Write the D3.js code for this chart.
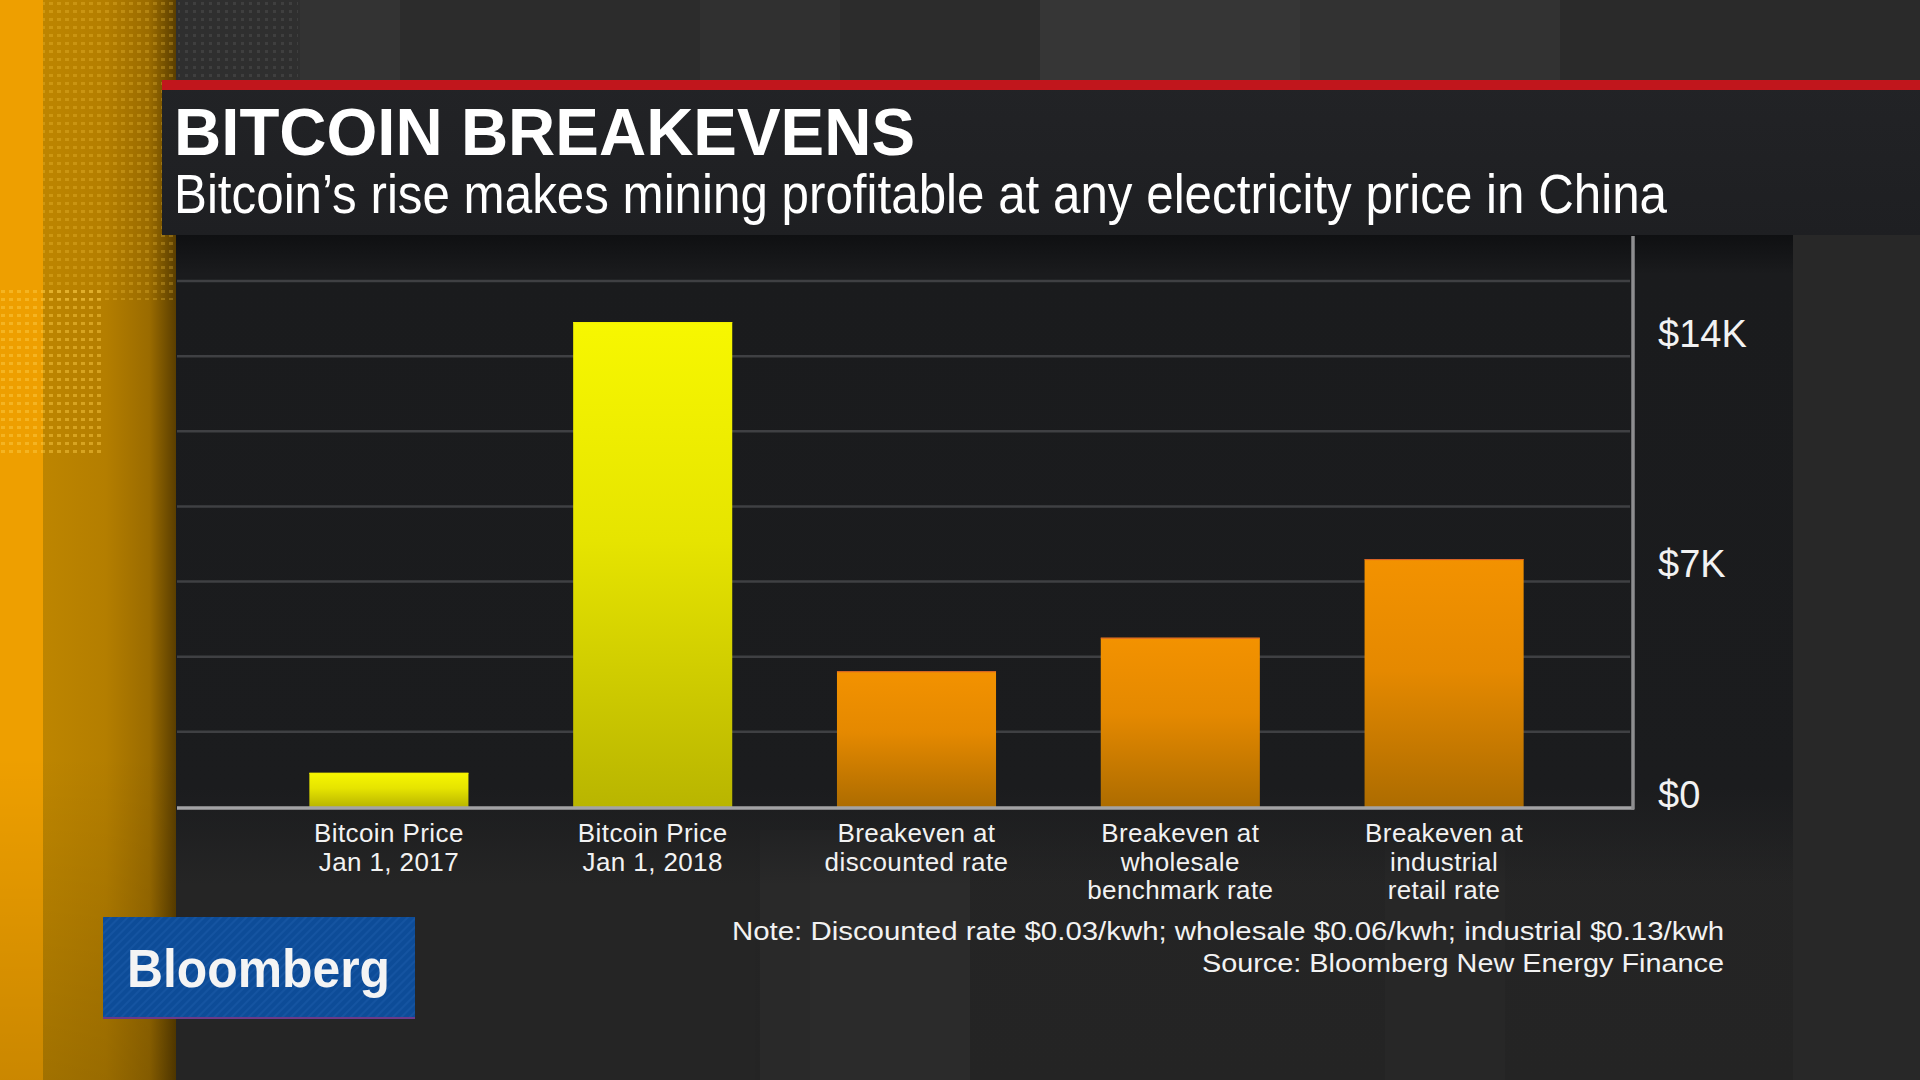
<!DOCTYPE html>
<html>
<head>
<meta charset="utf-8">
<script src="https://cdn.jsdelivr.net/npm/d3@7"></script>
<style>
  html, body { margin: 0; padding: 0; background: #252525; overflow: hidden; }
  svg { display: block; }
  text { font-family: "Liberation Sans", Arial, sans-serif; fill: #f2f2f2; }
</style>
</head>
<body>
<svg id="chart" width="1920" height="1080"></svg>
<script>
// ---------- data ----------
const categories = [
  "Bitcoin Price\nJan 1, 2017",
  "Bitcoin Price\nJan 1, 2018",
  "Breakeven at\ndiscounted rate",
  "Breakeven at\nwholesale\nbenchmark rate",
  "Breakeven at\nindustrial\nretail rate"
];
const values = [1040, 14750, 4130, 5150, 7540];
const seriesType = ["price", "price", "breakeven", "breakeven", "breakeven"];
const yTickValues = [0, 7000, 14000];
const yTickLabels = ["$0", "$7K", "$14K"];
const yMax = 16000;
const gridCount = 7;
const title = "BITCOIN BREAKEVENS";
const subtitle = "Bitcoin\u2019s rise makes mining profitable at any electricity price in China";
const note = "Note: Discounted rate $0.03/kwh; wholesale $0.06/kwh; industrial $0.13/kwh";
const source = "Source: Bloomberg New Energy Finance";

// ---------- setup ----------
const svg = d3.select("#chart");
const defs = svg.append("defs");

function linGrad(id, stops, x1=0, y1=0, x2=0, y2=1) {
  const g = defs.append("linearGradient").attr("id", id)
    .attr("x1", x1).attr("y1", y1).attr("x2", x2).attr("y2", y2);
  stops.forEach(s => g.append("stop").attr("offset", s[0]).attr("stop-color", s[1]).attr("stop-opacity", s[2] == null ? 1 : s[2]));
}
linGrad("gYellow", [[0, "#f7f700"], [0.45, "#e6e400"], [1, "#b9b500"]]);
linGrad("gOrange", [[0, "#f39200"], [0.45, "#e58900"], [1, "#ad6c00"]]);
linGrad("gPanel", [[0, "#0f1012"], [0.06, "#1a1b1d"], [0.85, "#1b1c1e"], [1, "#1b1c1e", 0]]);
linGrad("gHeader", [[0, "#222326"], [1, "#1e1f22"]]);
linGrad("gStrip", [[0, "#c48a00"], [0.6, "#b47e00"], [0.85, "#9a6b00"], [1, "#5a3e00"]], 0, 0, 1, 0);
linGrad("gStripV", [[0, "#000", 0], [0.7, "#000", 0], [1, "#000", 0.15]]);
linGrad("gBgBottom", [[0, "#1d1d1e"], [0.25, "#262627"], [1, "#242424"]]);

// halftone pattern
const pat = defs.append("pattern").attr("id", "dots").attr("width", 8).attr("height", 8).attr("patternUnits", "userSpaceOnUse");
pat.append("rect").attr("x", 1).attr("y", 2).attr("width", 4).attr("height", 3).attr("fill", "#ffcf4a").attr("opacity", 0.55);
const pat2 = defs.append("pattern").attr("id", "dotsGray").attr("width", 8).attr("height", 8).attr("patternUnits", "userSpaceOnUse");
pat2.append("rect").attr("x", 1).attr("y", 2).attr("width", 3).attr("height", 3).attr("fill", "#4a4a4a").attr("opacity", 0.6);
const pat3 = defs.append("pattern").attr("id", "stripes").attr("width", 6).attr("height", 6)
  .attr("patternUnits", "userSpaceOnUse").attr("patternTransform", "rotate(45)");
pat3.append("rect").attr("width", 2).attr("height", 6).attr("fill", "#1a5aa6").attr("opacity", 0.6);

// ---------- background ----------
const bg = svg.append("g");
bg.append("rect").attr("x", 0).attr("y", 0).attr("width", 1920).attr("height", 1080).attr("fill", "url(#gBgBottom)");
// top area
bg.append("rect").attr("x", 175).attr("y", 0).attr("width", 1745).attr("height", 90).attr("fill", "#2c2c2c");
[[175, 125, "#2f2f2f"], [300, 100, "#333333"], [700, 140, "#303030"], [1040, 260, "#363636"], [1300, 260, "#323232"], [1560, 360, "#2a2a2a"]]
  .forEach(s => bg.append("rect").attr("x", s[0]).attr("y", 0).attr("width", s[1]).attr("height", 90).attr("fill", s[2]));
bg.append("rect").attr("x", 178).attr("y", 0).attr("width", 120).attr("height", 80).attr("fill", "url(#dotsGray)");
// lower stripes
[[175, 580, "#262626"], [760, 50, "#2a2a2a"], [810, 160, "#2c2c2c"], [1385, 120, "#282828"], [1793, 127, "#2a2a2a"]]
  .forEach(s => bg.append("rect").attr("x", s[0]).attr("y", 830).attr("width", s[1]).attr("height", 250).attr("fill", s[2]).attr("opacity", 0.9));
bg.append("rect").attr("x", 1793).attr("y", 235).attr("width", 127).attr("height", 845).attr("fill", "#282828");

// dark chart panel
bg.append("rect").attr("x", 175).attr("y", 235).attr("width", 1618).attr("height", 650).attr("fill", "url(#gPanel)");

// left strip
bg.append("rect").attr("x", 0).attr("y", 0).attr("width", 176).attr("height", 1080).attr("fill", "url(#gStrip)");
bg.append("rect").attr("x", 0).attr("y", 0).attr("width", 43).attr("height", 1080).attr("fill", "#ee9f00");
bg.append("rect").attr("x", 0).attr("y", 0).attr("width", 176).attr("height", 1080).attr("fill", "url(#gStripV)");
bg.append("rect").attr("x", 43).attr("y", 0).attr("width", 132).attr("height", 300).attr("fill", "url(#dots)").attr("opacity", 0.45);
bg.append("rect").attr("x", 0).attr("y", 290).attr("width", 104).attr("height", 165).attr("fill", "url(#dots)").attr("opacity", 0.8);

// header
const header = svg.append("g");
header.append("rect").attr("x", 162).attr("y", 80).attr("width", 1758).attr("height", 155).attr("fill", "url(#gHeader)");
header.append("rect").attr("x", 162).attr("y", 80).attr("width", 1758).attr("height", 10).attr("fill", "#c1161c");
header.append("text").attr("x", 174).attr("y", 155)
  .attr("font-size", 66).attr("font-weight", "bold")
  .attr("textLength", 741).attr("lengthAdjust", "spacingAndGlyphs")
  .style("fill", "#ffffff").text(title);
header.append("text").attr("x", 174).attr("y", 213)
  .attr("font-size", 55)
  .attr("textLength", 1493).attr("lengthAdjust", "spacingAndGlyphs")
  .style("fill", "#ffffff").text(subtitle);

// ---------- chart ----------
const plotLeft = 177, plotRight = 1630, baseY = 807, topY = 281;
const x = d3.scaleBand().domain(categories).range([257, 1576]).paddingInner(0.397).paddingOuter(0.1985);
const y = d3.scaleLinear().domain([0, yMax]).range([baseY, topY]);

const chart = svg.append("g");
// gridlines
const gridVals = d3.range(1, gridCount + 1).map(i => yMax * i / gridCount);
chart.append("g").selectAll("line").data(gridVals).join("line")
  .attr("x1", plotLeft).attr("x2", plotRight)
  .attr("y1", d => y(d)).attr("y2", d => y(d))
  .attr("stroke", "#3f4043").attr("stroke-width", 2.5);

// bars
chart.append("g").selectAll("rect").data(values).join("rect")
  .attr("x", (d, i) => x(categories[i]))
  .attr("width", x.bandwidth())
  .attr("y", d => y(d))
  .attr("height", d => y(0) - y(d))
  .attr("fill", (d, i) => seriesType[i] === "price" ? "url(#gYellow)" : "url(#gOrange)");
chart.append("g").selectAll("line").data(values).join("line")
  .attr("x1", (d, i) => x(categories[i])).attr("x2", (d, i) => x(categories[i]) + x.bandwidth())
  .attr("y1", d => y(d) + 0.5).attr("y2", d => y(d) + 0.5)
  .attr("stroke", (d, i) => seriesType[i] === "price" ? "#f4f000" : "#d8602a").attr("stroke-width", 1);

// baseline
chart.append("line").attr("x1", plotLeft).attr("x2", 1634).attr("y1", baseY + 1).attr("y2", baseY + 1)
  .attr("stroke", "#a3a3a5").attr("stroke-width", 3.5);
// right axis line
chart.append("line").attr("x1", 1633).attr("x2", 1633).attr("y1", 236).attr("y2", baseY + 2.5)
  .attr("stroke", "#8e8e90").attr("stroke-width", 3.5);

// y axis labels (right)
const yAxis = d3.axisRight(y).tickValues(yTickValues).tickSize(0).tickPadding(0)
  .tickFormat((d, i) => yTickLabels[i]);
const yg = chart.append("g").attr("transform", "translate(1658,0)").call(yAxis);
yg.select(".domain").remove();
yg.selectAll("text")
  .attr("x", 0).attr("dy", 0)
  .attr("font-size", 38).attr("font-family", "'Liberation Sans', Arial, sans-serif")
  .style("fill", "#f2f2f2");

// x labels
const xg = chart.append("g");
const lineGap = 28.5;
categories.forEach((c, i) => {
  const cx = x(c) + x.bandwidth() / 2;
  const t = xg.append("text")
    .attr("x", cx).attr("y", 842)
    .attr("text-anchor", "middle").attr("font-size", 26).attr("letter-spacing", 0.4);
  c.split("\n").forEach((line, j) => {
    t.append("tspan").attr("x", cx).attr("y", 842 + j * lineGap).text(line);
  });
});

// note & source
svg.append("text").attr("x", 1724).attr("y", 940).attr("text-anchor", "end")
  .attr("font-size", 26).attr("textLength", 992).attr("lengthAdjust", "spacingAndGlyphs").text(note);
svg.append("text").attr("x", 1724).attr("y", 972).attr("text-anchor", "end")
  .attr("font-size", 26).attr("textLength", 522).attr("lengthAdjust", "spacingAndGlyphs").text(source);

// Bloomberg logo
const logo = svg.append("g");
logo.append("rect").attr("x", 103).attr("y", 917).attr("width", 312).attr("height", 102).attr("fill", "#0d4c98");
logo.append("rect").attr("x", 103).attr("y", 917).attr("width", 312).attr("height", 102).attr("fill", "url(#stripes)");
logo.append("rect").attr("x", 103).attr("y", 1017).attr("width", 312).attr("height", 2).attr("fill", "#6a3a8a");
logo.append("text").attr("x", 127).attr("y", 987)
  .attr("font-size", 54).attr("font-weight", 600).attr("font-family", "'Open Sans', 'Liberation Sans', sans-serif")
  .attr("textLength", 263).attr("lengthAdjust", "spacingAndGlyphs")
  .style("fill", "#f4f4f4").text("Bloomberg");
</script>
</body>
</html>
